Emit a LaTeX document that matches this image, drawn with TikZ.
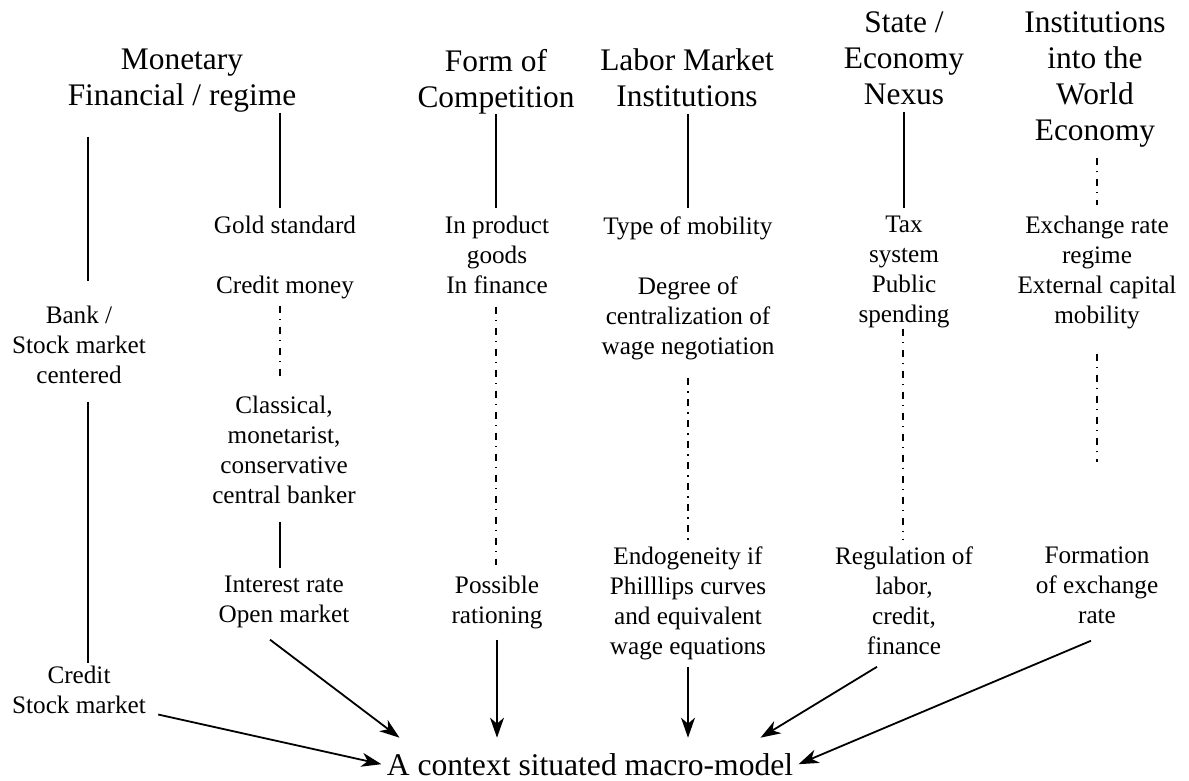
\documentclass[tikz,border=0pt]{standalone}
\usepackage{fontspec}
\setmainfont{Liberation Serif}
\usetikzlibrary{arrows.meta}
\usetikzlibrary{calc}

\tikzset{
  txt/.style={anchor=north,inner sep=0pt,align=center,font=\fontsize{12.6}{15}\selectfont},
  head/.style={anchor=north,inner sep=0pt,align=center,font=\fontsize{15.7}{18}\selectfont},
  link/.style={line width=0.9pt},
  dashdot/.style={line width=0.8pt,dash pattern=on 3.5pt off 3.2pt on 0.6pt off 3.2pt},
  arr/.style={line width=0.9pt,-{Stealth[length=10pt,width=7pt,inset=3pt]}}
}

\begin{document}
\begin{tikzpicture}[x=0.5pt,y=-0.5pt]
\useasboundingbox (0,0) rectangle (1189,781);
% headings
\node[head] (mon) at (182,48.5) {Monetary\\Financial / regime};
\node[head] (comp) at (496,48.5) {Form of\\Competition};
\node[head] (lab) at (687,48.5) {Labor Market\\Institutions};
\node[head] (state) at (904,11.5) {State /\\Economy\\Nexus};
\node[head] (inst) at (1095,11.5) {Institutions\\into the\\World\\Economy};
% texts
\node[txt] (bank) at (79,306) {Bank /\\Stock market\\centered};
\node[txt] (credit) at (79,666) {Credit\\Stock market};
\node[txt] (gold) at (285,216) {Gold standard};
\node[txt] (cmon) at (285,276) {Credit money};
\node[txt] (clas) at (284,396) {Classical,\\monetarist,\\conservative\\central banker};
\node[txt] (irate) at (284,576) {Interest rate\\Open market};
\node[txt] (prod) at (497,216) {In product\\goods\\In finance};
\node[txt] (ration) at (497,576) {Possible\\rationing};
\node[txt] (mob) at (688,216) {Type of mobility};
\node[txt] (deg) at (688,276) {Degree of\\centralization of\\wage negotiation};
\node[txt] (endo) at (688,546) {Endogeneity if\\Philllips curves\\and equivalent\\wage equations};
\node[txt] (tax) at (904,216) {Tax\\system\\Public\\spending};
\node[txt] (reg) at (904,546) {Regulation of\\labor,\\credit,\\finance};
\node[txt] (exch) at (1097,216) {Exchange rate\\regime\\External capital\\mobility};
\node[txt] (form) at (1097,546) {Formation\\of exchange\\rate};
\node[anchor=base,inner xsep=2.5pt,inner ysep=7.5pt,font=\fontsize{15.8}{18}\selectfont] (model) at (590,775) {A context situated macro-model};
% vertical links
\draw[link,shorten <=12pt,shorten >=12.5pt] (88,0 |- mon.south) -- (88,0 |- bank.north);
\draw[link,shorten <=8.5pt,shorten >=1.5pt] (88,0 |- bank.south) -- (88,0 |- credit.north);
\draw[link,shorten >=4pt] (280,0 |- mon.south) -- (280,0 |- gold.north);
\draw[dashdot,shorten <=3pt,shorten >=9.5pt] (280,0 |- cmon.south) -- (280,0 |- clas.north);
\draw[link,shorten <=8.5pt,shorten >=4pt] (280,0 |- clas.south) -- (280,0 |- irate.north);
\draw[link,shorten >=4pt] (496,0 |- comp.south) -- (496,0 |- prod.north);
\draw[dashdot,shorten <=6pt,shorten >=5.5pt] (496,0 |- prod.south) -- (496,0 |- ration.north);
\draw[link,shorten <=3.5pt,shorten >=4pt] (688,0 |- lab.south) -- (688,0 |- mob.north);
\draw[dashdot,shorten <=9pt,shorten >=3pt] (688,0 |- deg.south) -- (688,0 |- endo.north);
\draw[link,shorten <=3.5pt,shorten >=4pt] (904,0 |- state.south) -- (904,0 |- tax.north);
\draw[dashdot,shorten >=3pt] (903,0 |- tax.south) -- (903,0 |- reg.north);
\draw[dashdot,shorten <=5pt,shorten >=5.5pt] (1097,0 |- inst.south) -- (1097,0 |- exch.north);
\draw[dashdot,shorten <=12pt,shorten >=42pt] (1097,0 |- exch.south) -- (1097,0 |- form.north);
% arrows to the model
\draw[arr] ($(credit.south east)+(12,0)$) -- (model.west);
\draw[arr] ($(irate.south)+(-14,11)$) -- ($(model.north west)+(18,0)$);
\draw[arr] ($(ration.south)+(0,10)$) -- (ration.south |- model.north);
\draw[arr] ($(endo.south)+(0,7)$) -- (endo.south |- model.north);
\draw[arr] ($(reg.south)+(-27,12)$) -- ($(model.north east)+(-38,0)$);
\draw[arr] ($(form.south)+(-6,17)$) -- (model.east);
\end{tikzpicture}
\end{document}
